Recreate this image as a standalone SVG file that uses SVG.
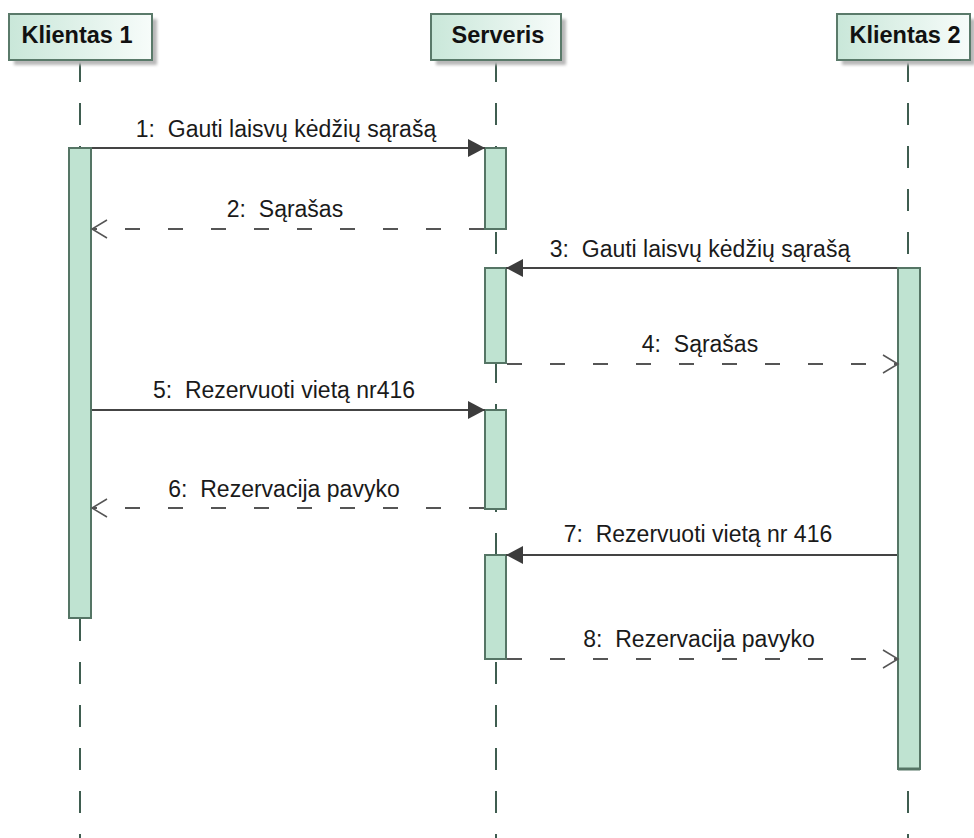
<svg xmlns="http://www.w3.org/2000/svg" width="974" height="838" viewBox="0 0 974 838">
<defs>
  <linearGradient id="hdr" x1="0" y1="0" x2="1" y2="0">
    <stop offset="0" stop-color="#c9e7d9"/>
    <stop offset="1" stop-color="#f7fcfa"/>
  </linearGradient>
  <filter id="blur" x="-10%" y="-10%" width="120%" height="130%">
    <feGaussianBlur stdDeviation="1.5"/>
  </filter>
  <marker id="filled" markerUnits="userSpaceOnUse" markerWidth="18" markerHeight="20" refX="17" refY="10" orient="auto">
    <path d="M0,1 L17,10 L0,19 z" fill="#3c3c3c" stroke="none"/>
  </marker>
  <marker id="open" markerUnits="userSpaceOnUse" markerWidth="18" markerHeight="20" refX="16" refY="10" orient="auto">
    <path d="M1,1 L16,10 L1,19" fill="none" stroke="#555" stroke-width="1.5" stroke-dasharray="none"/>
  </marker>
</defs>
<style>
  .hdr { fill: url(#hdr); stroke: #5a7a6a; stroke-width: 2; }
  .shadow { fill: #b8b8b8; filter: url(#blur); }
  .hdrtxt { font-family: "Liberation Sans", Arial, sans-serif; font-weight: bold; font-size: 23.5px; fill: #111; text-anchor: middle; }
  .life { stroke: #3f5d50; stroke-width: 2; stroke-dasharray: 22 21; fill: none; }
  .act { fill: #bfe3d1; stroke: #557565; stroke-width: 2; }
  .msg { stroke: #444; stroke-width: 2; fill: none; }
  .ret { stroke: #555; stroke-width: 2; fill: none; stroke-dasharray: 15 28; }
  .lbl { font-family: "Liberation Sans", Arial, sans-serif; font-size: 23px; fill: #1a1a1a; text-anchor: middle; }
</style>

<g id="lifelines">
  <path class="life" d="M80,60 V838"/>
  <path class="life" d="M496,60 V838"/>
  <path class="life" d="M908,60 V838"/>
</g>

<g id="klientas1">
  <rect class="shadow" x="14" y="19" width="143" height="46"/>
  <rect class="hdr" x="9" y="14" width="143" height="46"/>
  <text class="hdrtxt" x="77" y="43">Klientas 1</text>
  <rect class="act" x="69" y="148" width="22" height="470"/>
</g>

<g id="serveris">
  <rect class="shadow" x="436" y="19" width="130" height="46"/>
  <rect class="hdr" x="431" y="14" width="130" height="46"/>
  <text class="hdrtxt" x="498" y="43">Serveris</text>
  <rect class="act" x="485" y="148" width="21" height="81"/>
  <rect class="act" x="485" y="268" width="21" height="95"/>
  <rect class="act" x="485" y="410" width="21" height="99"/>
  <rect class="act" x="485" y="555" width="21" height="104"/>
</g>

<g id="klientas2">
  <rect class="shadow" x="842" y="19" width="133" height="46"/>
  <rect class="hdr" x="837" y="14" width="133" height="46"/>
  <text class="hdrtxt" x="905" y="43">Klientas 2</text>
  <rect class="act" x="898" y="268" width="22" height="501"/>
  <path d="M898,769 H920" stroke="#557565" stroke-width="3"/>
</g>

<g id="connectors">
  <path class="msg" d="M92,148 H485" marker-end="url(#filled)"/>
  <text class="lbl" x="286" y="137">1:&#160; Gauti laisvų kėdžių sąrašą</text>

  <path class="ret" d="M484,229 H92" marker-end="url(#open)"/>
  <text class="lbl" x="285" y="217">2:&#160; Sąrašas</text>

  <path class="msg" d="M897,268 H506" marker-end="url(#filled)"/>
  <text class="lbl" x="700" y="257">3:&#160; Gauti laisvų kėdžių sąrašą</text>

  <path class="ret" d="M507,364 H898" marker-end="url(#open)"/>
  <text class="lbl" x="700" y="352">4:&#160; Sąrašas</text>

  <path class="msg" d="M92,410 H485" marker-end="url(#filled)"/>
  <text class="lbl" x="284" y="398">5:&#160; Rezervuoti vietą nr416</text>

  <path class="ret" d="M484,508 H92" marker-end="url(#open)"/>
  <text class="lbl" x="284" y="497">6:&#160; Rezervacija pavyko</text>

  <path class="msg" d="M897,555 H506" marker-end="url(#filled)"/>
  <text class="lbl" x="698" y="542">7:&#160; Rezervuoti vietą nr 416</text>

  <path class="ret" d="M507,659 H898" marker-end="url(#open)"/>
  <text class="lbl" x="699" y="647">8:&#160; Rezervacija pavyko</text>
</g>
</svg>
